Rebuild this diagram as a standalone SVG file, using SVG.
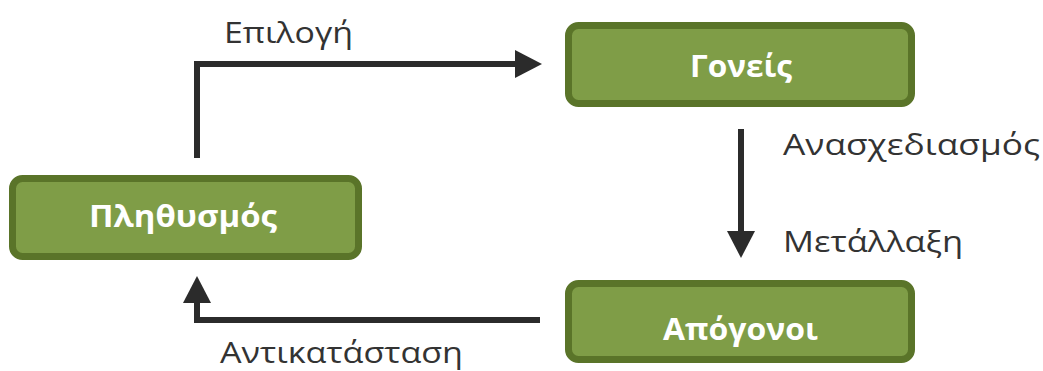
<svg xmlns="http://www.w3.org/2000/svg" width="1043" height="371" viewBox="0 0 1043 371">
<style>
.box{fill:#7f9d47;stroke:#5a7429;stroke-width:7}
.nl{font-family:"Open Sans","Noto Sans",sans-serif;font-weight:bold;font-size:30px;fill:#ffffff}
.el{font-family:"Open Sans","Noto Sans",sans-serif;font-size:29px;fill:#333333}
.conn{fill:none;stroke:#2b2b2b;stroke-width:6}
</style>
<defs>
<marker id="ah" markerUnits="userSpaceOnUse" markerWidth="30" markerHeight="30" refX="0" refY="14" orient="auto" viewBox="0 0 30 30">
<path d="M0,0 L27,14 L0,28 z" fill="#2b2b2b"/>
</marker>
</defs>
<rect width="1043" height="371" fill="#ffffff"/>
<g id="connectors">
<path class="conn" d="M197,158 V64 H515" marker-end="url(#ah)"/>
<path class="conn" d="M741,129 V231" marker-end="url(#ah)"/>
<path class="conn" d="M540,320 H197 V303" marker-end="url(#ah)"/>
</g>
<g id="edge-labels">
<text class="el" x="224" y="43" textLength="129" lengthAdjust="spacingAndGlyphs">Επιλογή</text>
<text class="el" x="783" y="155" textLength="257" lengthAdjust="spacingAndGlyphs">Ανασχεδιασμός</text>
<text class="el" x="783" y="252" textLength="180" lengthAdjust="spacingAndGlyphs">Μετάλλαξη</text>
<text class="el" x="220" y="363" textLength="243" lengthAdjust="spacingAndGlyphs">Αντικατάσταση</text>
</g>
<g id="node-plithysmos">
<rect class="box" x="12.5" y="178.5" width="346" height="78" rx="10"/>
<text class="nl" x="89" y="227" textLength="188" lengthAdjust="spacingAndGlyphs">Πληθυσμός</text>
</g>
<g id="node-goneis">
<rect class="box" x="568.5" y="25.5" width="343" height="78" rx="10"/>
<text class="nl" x="690" y="77" textLength="102" lengthAdjust="spacingAndGlyphs">Γονείς</text>
</g>
<g id="node-apogonoi">
<rect class="box" x="568.5" y="283.5" width="343" height="76" rx="10"/>
<text class="nl" x="663" y="340" textLength="155" lengthAdjust="spacingAndGlyphs">Απόγονοι</text>
</g>
</svg>
